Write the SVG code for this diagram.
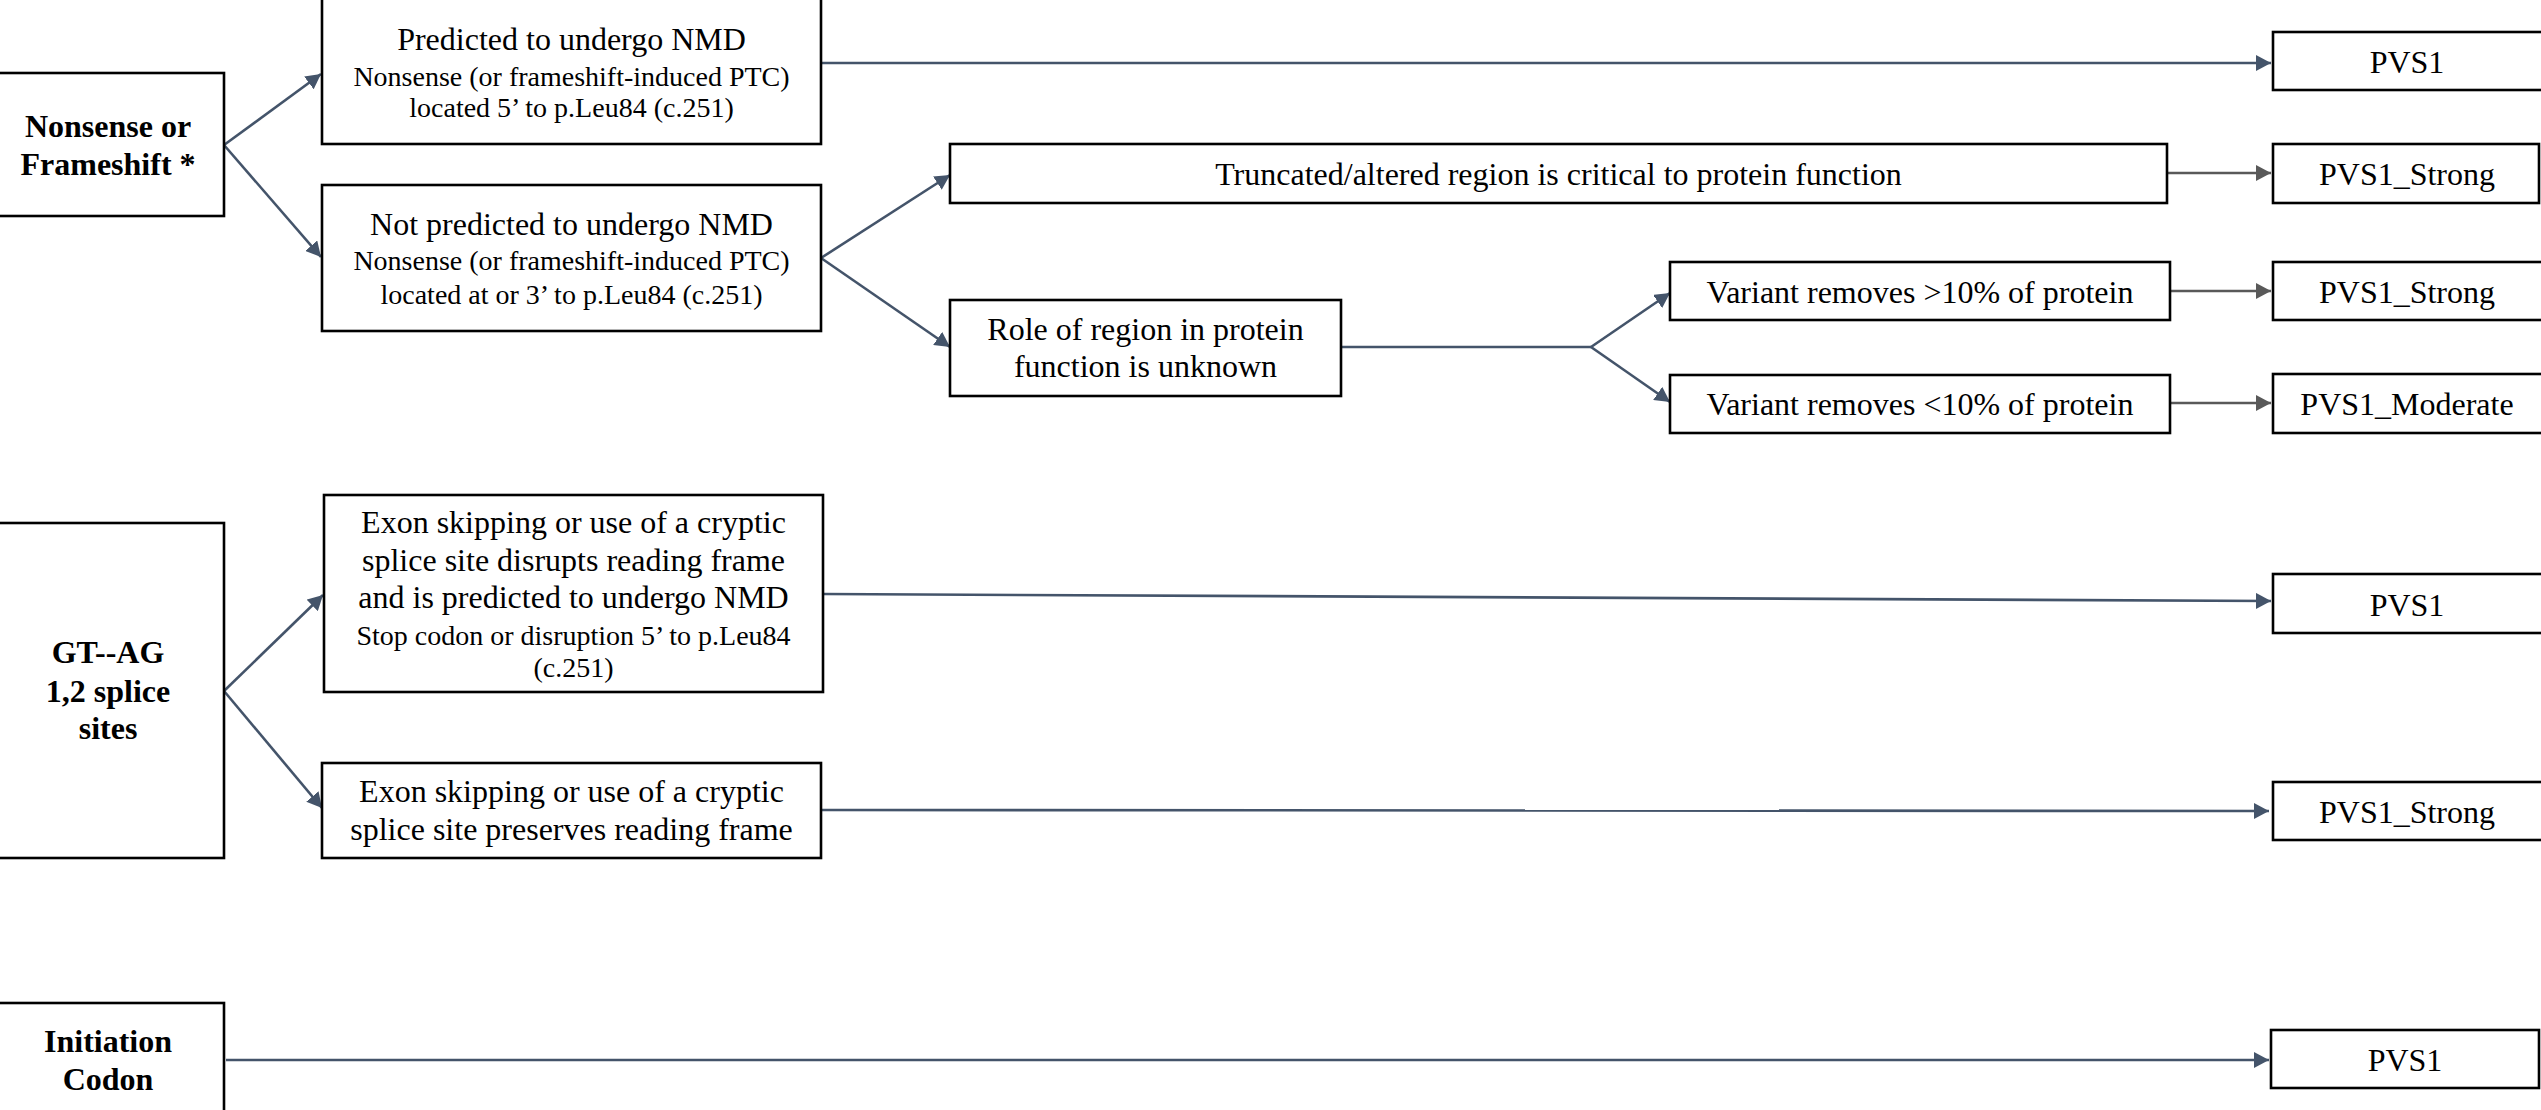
<svg xmlns="http://www.w3.org/2000/svg" width="2541" height="1110" viewBox="0 0 2541 1110">
<style>
.box{fill:#fff;stroke:#000;stroke-width:2.6}
.t{font-family:"Liberation Serif","Times New Roman",serif;font-size:32px;fill:#000;text-anchor:middle}
.s{font-size:28px}
.b{font-weight:bold}
.c{fill:none;stroke:#44546A;stroke-width:2.6}
.g{fill:none;stroke:#595959;stroke-width:2.6}
</style>
<defs>
<marker id="ah" viewBox="0 0 15 16" refX="15" refY="8" markerWidth="15" markerHeight="16" markerUnits="userSpaceOnUse" orient="auto">
<path d="M0,0 L15,8 L0,16 z" fill="#44546A"/>
</marker>
<marker id="ahg" viewBox="0 0 15 16" refX="15" refY="8" markerWidth="15" markerHeight="16" markerUnits="userSpaceOnUse" orient="auto">
<path d="M0,0 L15,8 L0,16 z" fill="#595959"/>
</marker>
</defs>

<g id="connectors">
<line class="c" x1="224" y1="145" x2="321" y2="74" marker-end="url(#ah)"/>
<line class="c" x1="224" y1="145" x2="321" y2="257" marker-end="url(#ah)"/>
<line class="c" x1="821" y1="63" x2="2271" y2="63" marker-end="url(#ah)"/>
<line class="c" x1="821" y1="258" x2="950" y2="175" marker-end="url(#ah)"/>
<line class="c" x1="821" y1="258" x2="950" y2="347" marker-end="url(#ah)"/>
<line class="g" x1="2167" y1="173" x2="2271" y2="173" marker-end="url(#ahg)"/>
<line class="c" x1="1342" y1="347" x2="1591" y2="347"/>
<line class="c" x1="1591" y1="347" x2="1670" y2="293" marker-end="url(#ah)"/>
<line class="c" x1="1591" y1="347" x2="1670" y2="402" marker-end="url(#ah)"/>
<line class="g" x1="2170" y1="291" x2="2271" y2="291" marker-end="url(#ahg)"/>
<line class="g" x1="2170" y1="403" x2="2271" y2="403" marker-end="url(#ahg)"/>
<line class="c" x1="224" y1="691" x2="323" y2="595" marker-end="url(#ah)"/>
<line class="c" x1="224" y1="691" x2="322" y2="808" marker-end="url(#ah)"/>
<line class="c" x1="823" y1="594" x2="2271" y2="601" marker-end="url(#ah)"/>
<line class="c" x1="821" y1="810" x2="2269" y2="811" marker-end="url(#ah)"/>
<line class="c" x1="226" y1="1060" x2="2269" y2="1060" marker-end="url(#ah)"/>
</g>

<g id="nonsense">
<rect class="box" x="-4" y="73" width="228" height="143"/>
<text class="t b" x="108" y="137">Nonsense or</text>
<text class="t b" x="108" y="175">Frameshift *</text>
</g>

<g id="predicted-nmd">
<rect class="box" x="322" y="-3" width="499" height="147"/>
<text class="t" x="571.5" y="50">Predicted to undergo NMD</text>
<text class="t s" x="571.5" y="86">Nonsense (or frameshift-induced PTC)</text>
<text class="t s" x="571.5" y="117">located 5’ to p.Leu84 (c.251)</text>
</g>

<g id="not-predicted-nmd">
<rect class="box" x="322" y="185" width="499" height="146"/>
<text class="t" x="571.5" y="235">Not predicted to undergo NMD</text>
<text class="t s" x="571.5" y="270">Nonsense (or frameshift-induced PTC)</text>
<text class="t s" x="571.5" y="304">located at or 3’ to p.Leu84 (c.251)</text>
</g>

<g id="truncated">
<rect class="box" x="950" y="144" width="1217" height="59"/>
<text class="t" x="1558.5" y="185">Truncated/altered region is critical to protein function</text>
</g>

<g id="role-unknown">
<rect class="box" x="950" y="300" width="391" height="96"/>
<text class="t" x="1145.5" y="340">Role of region in protein</text>
<text class="t" x="1145.5" y="377">function is unknown</text>
</g>

<g id="variant-gt10">
<rect class="box" x="1670" y="262" width="500" height="58"/>
<text class="t" x="1920" y="303">Variant removes &gt;10% of protein</text>
</g>

<g id="variant-lt10">
<rect class="box" x="1670" y="375" width="500" height="58"/>
<text class="t" x="1920" y="415">Variant removes &lt;10% of protein</text>
</g>

<g id="pvs1-a">
<rect class="box" x="2273" y="32" width="270" height="58"/>
<text class="t" x="2407" y="73">PVS1</text>
</g>

<g id="pvs1-strong-a">
<rect class="box" x="2273" y="144" width="266" height="59"/>
<text class="t" x="2407" y="185">PVS1_Strong</text>
</g>

<g id="pvs1-strong-b">
<rect class="box" x="2273" y="262" width="270" height="58"/>
<text class="t" x="2407" y="303">PVS1_Strong</text>
</g>

<g id="pvs1-moderate">
<rect class="box" x="2273" y="374" width="270" height="59"/>
<text class="t" x="2407" y="415">PVS1_Moderate</text>
</g>

<g id="gt-ag">
<rect class="box" x="-4" y="523" width="228" height="335"/>
<text class="t b" x="108" y="663">GT--AG</text>
<text class="t b" x="108" y="702">1,2 splice</text>
<text class="t b" x="108" y="739">sites</text>
</g>

<g id="exon-disrupts">
<rect class="box" x="324" y="495" width="499" height="197"/>
<text class="t" x="573.5" y="533">Exon skipping or use of a cryptic</text>
<text class="t" x="573.5" y="571">splice site disrupts reading frame</text>
<text class="t" x="573.5" y="608">and is predicted to undergo NMD</text>
<text class="t s" x="573.5" y="645">Stop codon or disruption 5’ to p.Leu84</text>
<text class="t s" x="573.5" y="677">(c.251)</text>
</g>

<g id="exon-preserves">
<rect class="box" x="322" y="763" width="499" height="95"/>
<text class="t" x="571.5" y="802">Exon skipping or use of a cryptic</text>
<text class="t" x="571.5" y="840">splice site preserves reading frame</text>
</g>

<g id="pvs1-b">
<rect class="box" x="2273" y="574" width="270" height="59"/>
<text class="t" x="2407" y="616">PVS1</text>
</g>

<g id="pvs1-strong-c">
<rect class="box" x="2273" y="782" width="270" height="58"/>
<text class="t" x="2407" y="823">PVS1_Strong</text>
</g>

<g id="initiation">
<rect class="box" x="-4" y="1003" width="228" height="112"/>
<text class="t b" x="108" y="1052">Initiation</text>
<text class="t b" x="108" y="1090">Codon</text>
</g>

<g id="pvs1-c">
<rect class="box" x="2271" y="1030" width="268" height="58"/>
<text class="t" x="2405" y="1071">PVS1</text>
</g>
</svg>
